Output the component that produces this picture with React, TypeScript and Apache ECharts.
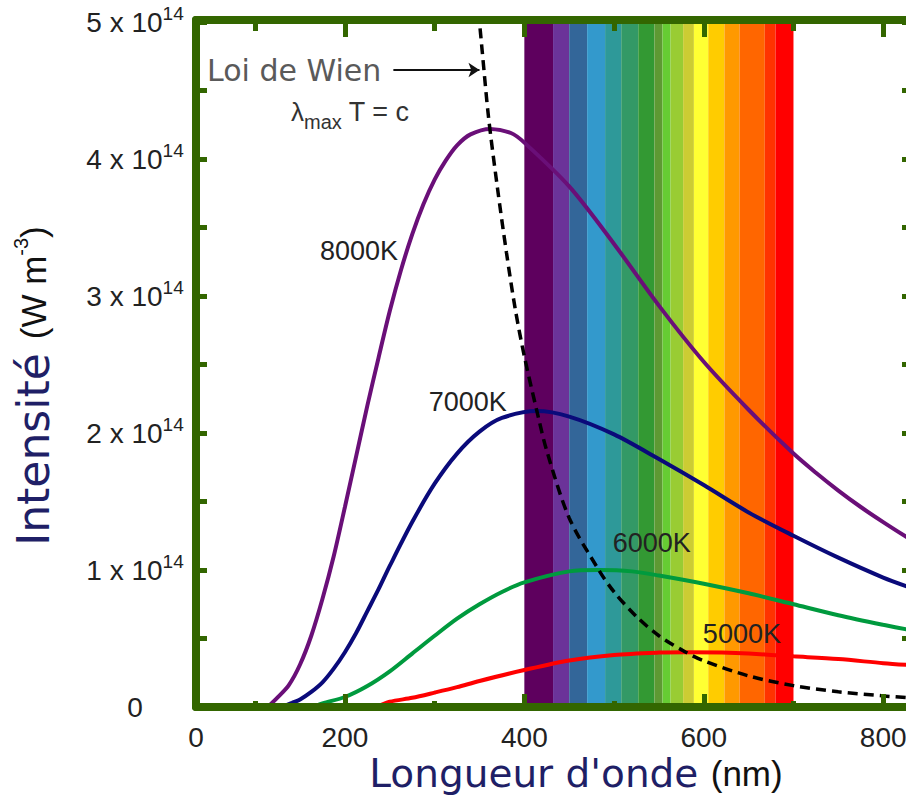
import { useEffect, useRef } from 'react';
import * as echarts from 'echarts';

// ---- Curves (wavelength in nm, intensity in units of 1e14 W m^-3) ----
const lambda8000 = [114, 125, 137.5, 150, 162.5, 175, 187.5, 200, 212.5, 225, 237.5, 250, 262.5, 275, 287.5, 300, 312.5, 325, 340, 362, 385, 400, 450, 500, 550, 600, 650, 700, 725, 750, 775, 800, 831];
const intensity8000 = [0, 0.07, 0.16, 0.31, 0.52, 0.79, 1.10, 1.46, 1.83, 2.20, 2.55, 2.89, 3.19, 3.45, 3.67, 3.85, 3.99, 4.10, 4.18, 4.22, 4.19, 4.12, 3.80, 3.38, 2.93, 2.52, 2.17, 1.85, 1.71, 1.58, 1.46, 1.35, 1.22];

const lambda7000 = [130, 141, 150, 162.5, 175, 187.5, 200, 212.5, 225, 237.5, 250, 275, 300, 325, 350, 375, 414, 450, 500, 550, 600, 650, 700, 750, 800, 831];
const intensity7000 = [0, 0.03, 0.055, 0.11, 0.18, 0.28, 0.40, 0.54, 0.70, 0.86, 1.03, 1.35, 1.63, 1.85, 2.01, 2.11, 2.16, 2.12, 1.99, 1.81, 1.62, 1.42, 1.25, 1.09, 0.945, 0.87];

const lambda6000 = [165, 175, 200, 225, 250, 275, 300, 325, 350, 375, 400, 450, 483, 520, 550, 600, 650, 700, 750, 800, 831];
const intensity6000 = [0, 0.026, 0.073, 0.153, 0.26, 0.39, 0.52, 0.645, 0.75, 0.84, 0.91, 0.99, 1.0, 0.99, 0.96, 0.90, 0.83, 0.75, 0.67, 0.60, 0.56];

const lambda5000 = [235, 250, 275, 300, 325, 350, 400, 450, 500, 550, 580, 620, 650, 700, 750, 800, 831];
const intensity5000 = [0, 0.038, 0.067, 0.105, 0.145, 0.19, 0.27, 0.34, 0.38, 0.397, 0.40, 0.397, 0.39, 0.37, 0.35, 0.32, 0.305];

// Wien's law (locus of the maxima)
const lambdaWien = [349, 353, 360, 370, 380, 390, 400, 414, 425, 450, 483, 500, 525, 550, 580, 600, 650, 700, 750, 800, 831];
const intensityWien = [5.07, 4.79, 4.31, 3.79, 3.32, 2.90, 2.56, 2.16, 1.87, 1.38, 1.00, 0.84, 0.66, 0.52, 0.40, 0.337, 0.227, 0.156, 0.111, 0.081, 0.066];

// Visible spectrum stripes (nm)
const specBounds = [400, 432, 450, 470, 490, 508, 527, 545, 554, 563, 577, 589, 605, 623, 640, 668, 680, 700];
const specColors = ['#5e005e', '#6b3399', '#336699', '#3399cc', '#2e9999', '#339966', '#339933', '#5e9933', '#66cc33', '#99cc33', '#cccc33', '#ffff33', '#ffcc00', '#ff9900', '#ff6600', '#ff3300', '#ff0000'];

// Axes
const X_MIN = 34;
const X_MAX = 831;
const Y_MIN = 0;
const Y_MAX = 5.015;
const xMajorTicks = [200, 400, 600, 800];
const xMinorTicks = [100, 300, 500, 700];
const xLabelValues = [34, 200, 400, 600, 800];
const xLabelTexts = ['0', '200', '400', '600', '800'];
const yTickValues = [0.5, 1, 1.5, 2, 2.5, 3, 3.5, 4, 4.5, 5];
const yLabelValues = [0, 1, 2, 3, 4, 5];

// Curve labels [wavelength, intensity]
const label8000 = [215.6, 3.33];
const label7000 = [337, 2.23];
const label6000 = [542, 1.2];
const label5000 = [642.5, 0.53];
const wienArrow = [[254, 4.65], [350, 4.65]];

const FRAME = '#336600';
const SANS = 'Liberation Sans, Arial, sans-serif';
const WIDE = 'DejaVu Sans, sans-serif';

export default function App() {
  const ref = useRef<HTMLDivElement>(null);
  useEffect(() => {
    const chart = echarts.init(ref.current!, null, { renderer: 'svg' });
    const pairs = (xs: number[], ys: number[]) => xs.map((x, i) => [x, ys[i]]);
    const areaData = specColors.map((c, i) => [
      { xAxis: specBounds[i], itemStyle: { color: c, opacity: 1 } },
      { xAxis: specBounds[i + 1] },
    ]);
    const lineOn = { show: true, onZero: false, lineStyle: { color: FRAME, width: 8 } };
    const lineOff = { show: false, onZero: false };
    const tickStyle = { color: FRAME, width: 5 };
    const noLabel = { show: false };
    const noSplit = { show: false };
    const labelText = { color: '#222', fontSize: 27, fontFamily: SANS };
    const curveLabel = (coord: number[], text: string) => ({
      silent: true,
      symbol: 'rect',
      symbolSize: 1,
      itemStyle: { color: 'rgba(0,0,0,0)' },
      label: { show: true, position: 'inside', formatter: text, ...labelText },
      data: [{ coord }],
    });
    const curve = (name: string, xs: number[], ys: number[], color: string, coord: number[]) => ({
      type: 'line',
      name,
      data: pairs(xs, ys),
      showSymbol: false,
      smooth: 0.3,
      z: 3,
      lineStyle: { color, width: 4 },
      itemStyle: { color },
      markPoint: curveLabel(coord, name),
    });

    const option = {
      animation: false,
      backgroundColor: '#ffffff',
      grid: { left: 196, right: -5, top: 20, bottom: 92, containLabel: false, outerBoundsMode: 'none' },
      xAxis: [
        {
          type: 'value', position: 'bottom', min: X_MIN, max: X_MAX, z: 10,
          axisLine: lineOn,
          axisTick: { show: true, inside: true, length: 13, lineStyle: tickStyle, customValues: xMajorTicks },
          axisLabel: {
            show: true, customValues: xLabelValues, showMinLabel: true, showMaxLabel: true,
            formatter: (v: number) => xLabelTexts[xLabelValues.indexOf(v)] ?? String(v),
            fontSize: 28, fontFamily: SANS, color: '#222', margin: 16,
          },
          splitLine: noSplit,
        },
        {
          type: 'value', position: 'bottom', min: X_MIN, max: X_MAX, z: 10,
          axisLine: lineOff,
          axisTick: { show: true, inside: true, length: 6, lineStyle: tickStyle, customValues: xMinorTicks },
          axisLabel: noLabel, splitLine: noSplit,
        },
        {
          type: 'value', position: 'top', min: X_MIN, max: X_MAX, z: 10,
          axisLine: lineOn,
          axisTick: { show: true, inside: true, length: 17, lineStyle: tickStyle, customValues: xMajorTicks },
          axisLabel: noLabel, splitLine: noSplit,
        },
        {
          type: 'value', position: 'top', min: X_MIN, max: X_MAX, z: 10,
          axisLine: lineOff,
          axisTick: { show: true, inside: true, length: 11, lineStyle: tickStyle, customValues: xMinorTicks },
          axisLabel: noLabel, splitLine: noSplit,
        },
      ],
      yAxis: [
        {
          type: 'value', position: 'left', min: Y_MIN, max: Y_MAX, z: 10,
          axisLine: lineOn,
          axisTick: { show: true, inside: true, length: 11, lineStyle: tickStyle, customValues: yTickValues },
          axisLabel: {
            show: true, customValues: yLabelValues, align: 'center', margin: 61,
            formatter: (v: number) => (v === 0 ? '{a|0}' : `{a|${v} x 10}{sup|14}`),
            rich: {
              a: { fontSize: 28, lineHeight: 36, fontFamily: SANS, color: '#222' },
              sup: { fontSize: 19, lineHeight: 19, verticalAlign: 'top', fontFamily: SANS, color: '#222' },
            },
          },
          splitLine: noSplit,
        },
        {
          type: 'value', position: 'right', min: Y_MIN, max: Y_MAX, z: 10,
          axisLine: lineOn,
          axisTick: { show: true, inside: true, length: 9, lineStyle: tickStyle, customValues: yTickValues },
          axisLabel: noLabel, splitLine: noSplit,
        },
      ],
      series: [
        {
          type: 'line', name: 'spectre', data: [[400, 0]], showSymbol: false, silent: true, z: 1,
          lineStyle: { width: 0, opacity: 0 },
          markArea: { silent: true, data: areaData },
        },
        curve('8000K', lambda8000, intensity8000, '#6a0f78', label8000),
        curve('7000K', lambda7000, intensity7000, '#0a0a7a', label7000),
        curve('6000K', lambda6000, intensity6000, '#009a3e', label6000),
        curve('5000K', lambda5000, intensity5000, '#ff0000', label5000),
        {
          type: 'line', name: 'Loi de Wien', data: pairs(lambdaWien, intensityWien), showSymbol: false,
          smooth: 0.3, z: 4,
          lineStyle: { color: '#000', width: 3.5, type: [10, 6] },
          markLine: {
            silent: true,
            symbol: ['none', 'arrow'],
            symbolSize: 11,
            label: { show: false },
            lineStyle: { color: '#111', width: 2, type: 'solid' },
            data: [[{ coord: wienArrow[0] }, { coord: wienArrow[1] }]],
          },
        },
      ],
      graphic: [
        {
          type: 'text', x: 207, y: 70, z: 20,
          style: {
            text: 'Loi de Wien', fill: '#5a5a5a', fontSize: 30, fontFamily: WIDE,
            align: 'left', verticalAlign: 'middle', textAlign: 'left', textVerticalAlign: 'middle',
          },
        },
        {
          type: 'text', x: 291, y: 112, z: 20,
          style: {
            text: '{l|λ}{s|max}{t| T = c}',
            align: 'left', verticalAlign: 'middle', textAlign: 'left', textVerticalAlign: 'middle',
            rich: {
              l: { fontSize: 26, lineHeight: 40, fontFamily: SANS, fill: '#333' },
              s: { fontSize: 20, lineHeight: 20, verticalAlign: 'bottom', fontFamily: SANS, fill: '#333' },
              t: { fontSize: 27, lineHeight: 40, fontFamily: SANS, fill: '#333' },
            },
          },
        },
        {
          type: 'text', x: 576, y: 773, z: 20,
          style: {
            text: "{a|Longueur d'onde }{b|(nm)}",
            align: 'center', verticalAlign: 'middle', textAlign: 'center', textVerticalAlign: 'middle',
            rich: {
              a: { fontSize: 39, lineHeight: 36, fontFamily: WIDE, fill: '#1f1f66' },
              b: { fontSize: 35, lineHeight: 36, fontFamily: SANS, fill: '#111' },
            },
          },
        },
        {
          type: 'text', x: 33, y: 386, z: 20, rotation: Math.PI / 2,
          style: {
            text: '{a|Intensité }{b|(W m}{sup|-3}{b|)}',
            align: 'center', verticalAlign: 'middle', textAlign: 'center', textVerticalAlign: 'middle',
            rich: {
              a: { fontSize: 44, lineHeight: 44, fontFamily: WIDE, fill: '#1f1f66' },
              b: { fontSize: 35, lineHeight: 44, fontFamily: SANS, fill: '#111' },
              sup: { fontSize: 20, lineHeight: 20, verticalAlign: 'top', fontFamily: SANS, fill: '#111' },
            },
          },
        },
      ],
    };
    chart.setOption(option as any);
    return () => chart.dispose();
  }, []);
  return (
    <div
      ref={ref}
      style={{ position: 'fixed', left: 0, top: 0, width: 906, height: 799, background: '#fff', overflow: 'hidden' }}
    />
  );
}
